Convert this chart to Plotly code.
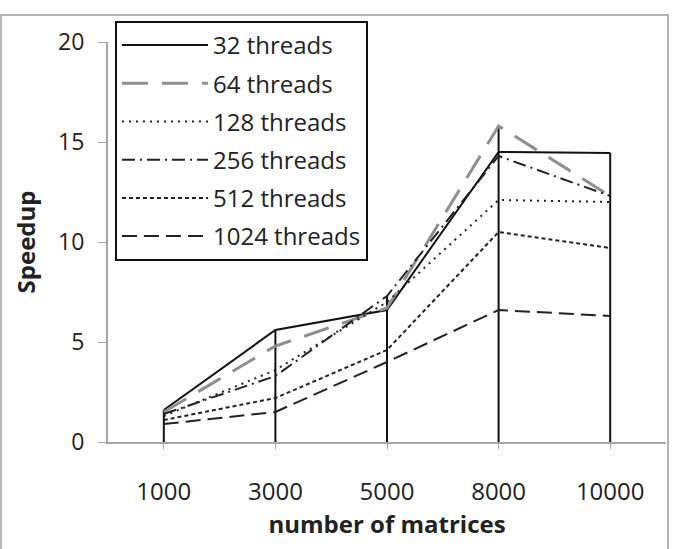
import plotly.graph_objects as go

categories = ["1000", "3000", "5000", "8000", "10000"]
series_names = ["32 threads", "64 threads", "128 threads", "256 threads", "512 threads", "1024 threads"]
t32 = [1.6, 5.6, 6.6, 14.5, 14.45]
t64 = [1.5, 4.8, 6.7, 15.8, 12.3]
t128 = [1.3, 3.6, 7.0, 12.1, 12.0]
t256 = [1.4, 3.3, 7.3, 14.3, 12.3]
t512 = [1.1, 2.2, 4.6, 10.5, 9.7]
t1024 = [0.9, 1.5, 4.0, 6.6, 6.3]
y_ticks = [0, 5, 10, 15, 20]

values = [t32, t64, t128, t256, t512, t1024]
styles = [
    dict(color="#111111", width=2, dash="solid"),
    dict(color="#8f8f8f", width=3, dash="26px,14px"),
    dict(color="#222222", width=2, dash="2px,5px"),
    dict(color="#222222", width=2, dash="13px,5px,2px,5px"),
    dict(color="#222222", width=2, dash="4px,3px"),
    dict(color="#222222", width=2, dash="15px,7px"),
]

FONT = "Open Sans"
TXT = "#222222"
fig = go.Figure()

# Drop lines from the highest value of each category down to the axis
dx, dy = [], []
for i, c in enumerate(categories):
    top = max(v[i] for v in values)
    dx += [c, c, None]
    dy += [0, top, None]
fig.add_trace(go.Scatter(x=dx, y=dy, mode="lines", showlegend=False,
                         line=dict(color="#111111", width=2), hoverinfo="skip"))

for name, v, st in zip(series_names, values, styles):
    fig.add_trace(go.Scatter(x=categories, y=v, mode="lines", name=name,
                             line=st, legendgroup=name))

fig.update_layout(
    width=674, height=549,
    margin=dict(l=108, r=8, t=42, b=107),
    paper_bgcolor="white", plot_bgcolor="white",
    font=dict(family=FONT, size=22, color=TXT),
    showlegend=True,
    legend=dict(
        x=0.0125, y=1.0525, xanchor="left", yanchor="top",
        bgcolor="white", bordercolor="#111111", borderwidth=2,
        font=dict(family=FONT, size=24, color=TXT),
        itemwidth=86, tracegroupgap=4,
    ),
    xaxis=dict(
        type="category", categoryorder="array", categoryarray=categories,
        range=[-0.5, 4.5], showgrid=False, zeroline=False,
        showline=True, linecolor="#a6a6a6", linewidth=2,
        ticks="outside", ticklen=5, tickcolor="#a6a6a6", tickwidth=1,
        ticklabelstandoff=22,
        tickfont=dict(family=FONT, size=24, color=TXT),
        title=dict(text="<b>number of matrices</b>", standoff=9,
                   font=dict(family=FONT, size=24, color=TXT)),
    ),
    yaxis=dict(
        range=[0, 20], tickvals=y_ticks, showgrid=False, zeroline=False,
        showline=True, linecolor="#a6a6a6", linewidth=2,
        ticks="outside", ticklen=8, tickcolor="#a6a6a6", tickwidth=1,
        ticklabelstandoff=9,
        tickfont=dict(family=FONT, size=23, color=TXT),
        title=dict(text="<b>Speedup</b>", standoff=16,
                   font=dict(family=FONT, size=24, color=TXT)),
    ),
    shapes=[dict(type="rect", xref="paper", yref="paper",
                 x0=-0.192, x1=1.0036, y0=-0.4, y1=1.0675,
                 line=dict(color="#b5b5b5", width=2), fillcolor="rgba(0,0,0,0)",
                 layer="below")],
)

fig.write_html("out.html")
